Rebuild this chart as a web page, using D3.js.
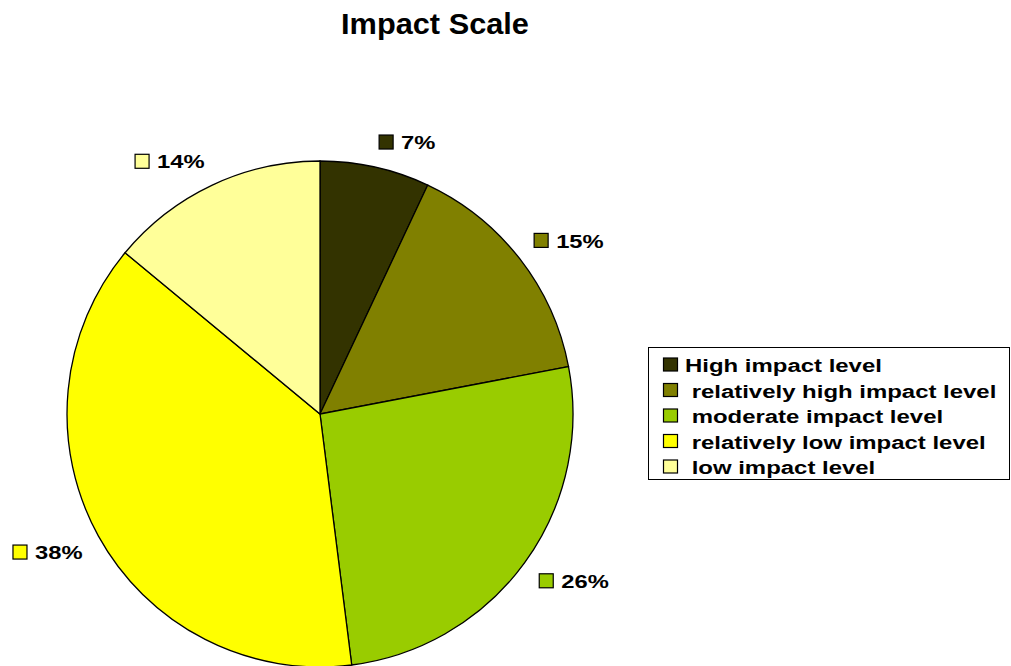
<!DOCTYPE html>
<html>
<head>
<meta charset="utf-8">
<script src="https://cdn.jsdelivr.net/npm/d3@7"></script>
<style>
  html, body { margin: 0; padding: 0; background: #fff; }
  svg { display: block; font-family: Arial, "Liberation Sans", sans-serif; }
</style>
</head>
<body>
<svg id="chart" width="1011" height="666"></svg>
<script>
// Impact levels and their shares (percent)
const categories = [
  "High impact level",
  "relatively high impact level",
  "moderate impact level",
  "relatively low impact level",
  "low impact level"
];
const shares = [7, 15, 26, 38, 14];
const colors = ["#333300", "#808000", "#99CC00", "#FFFF00", "#FFFF99"];
// legend entries after the first carry a leading space
const legendLabels = categories.map((c, i) => (i === 0 ? "" : " ") + c);

const cx = 320, cy = 414, radius = 253;
const textStretch = 1.25;   // wide horizontal text rendering

const svg = d3.select("#chart");

svg.append("g")
  .attr("transform", "translate(435,34) scale(1.06,1)")
  .append("text")
  .attr("text-anchor", "middle")
  .style("font-size", "29px").style("font-weight", "bold")
  .text("Impact Scale");

const data = categories.map((c, i) => ({ name: c, value: shares[i], color: colors[i] }));

const pie = d3.pie().value(d => d.value).sort(null);
const arcs = pie(data);
const arc = d3.arc().innerRadius(0).outerRadius(radius);

const g = svg.append("g").attr("transform", `translate(${cx},${cy})`);

g.selectAll("path.slice")
  .data(arcs)
  .join("path")
  .attr("class", "slice")
  .attr("d", arc)
  .attr("fill", d => d.data.color)
  .attr("stroke", "#000")
  .attr("stroke-width", 1.3);

// Data labels: swatch + percentage; the label corner nearest the pie
// sits on a circle slightly outside the slice's mid angle
const labelR = radius + 18;
const fmt = d => d3.format(".0f")(d) + "%";
const labels = g.selectAll("g.lbl")
  .data(arcs)
  .join("g")
  .attr("class", "lbl");

labels.each(function(d) {
  const sel = d3.select(this);
  const a = (d.startAngle + d.endAngle) / 2;
  const tg = sel.append("g");
  const text = tg.append("text")
    .style("font-size", "19px").style("font-weight", "bold")
    .attr("dominant-baseline", "central")
    .text(fmt(d.data.value));
  const tw = text.node().getComputedTextLength() * textStretch;
  const sw = 14, gap = 8;
  const w = sw + gap + tw, h = 15;
  const px = Math.sin(a) * labelR, py = -Math.cos(a) * labelR;
  const bx = Math.sin(a) >= 0 ? px : px - w;
  const top = Math.cos(a) >= 0 ? py - h : py;
  const midY = top + h / 2;
  sel.append("rect")
    .attr("x", bx).attr("y", midY - sw / 2)
    .attr("width", sw).attr("height", sw)
    .attr("fill", d.data.color)
    .attr("stroke", "#000").attr("stroke-width", 1.2);
  tg.attr("transform", `translate(${bx + sw + gap},${midY + 1}) scale(${textStretch},1)`);
});

// Legend
const legend = svg.append("g").attr("transform", "translate(648,347)");
legend.append("rect")
  .attr("x", 0.5).attr("y", 0.5)
  .attr("width", 361).attr("height", 132)
  .attr("fill", "#fff").attr("stroke", "#000").attr("stroke-width", 1);

const rowY = d3.scalePoint().domain(d3.range(categories.length)).range([17.5, 119.5]);
const rows = legend.selectAll("g.row")
  .data(data)
  .join("g")
  .attr("class", "row")
  .attr("transform", (d, i) => `translate(0,${rowY(i)})`);

rows.append("rect")
  .attr("x", 15.5).attr("y", -6.5)
  .attr("width", 14).attr("height", 13)
  .attr("fill", d => d.color)
  .attr("stroke", "#000").attr("stroke-width", 1.2);

rows.append("g")
  .attr("transform", `translate(37,1) scale(1.26,1)`)
  .append("text")
  .attr("dominant-baseline", "central")
  .attr("xml:space", "preserve")
  .style("white-space", "pre")
  .style("font-size", "19px").style("font-weight", "bold")
  .text((d, i) => legendLabels[i]);
</script>
</body>
</html>
